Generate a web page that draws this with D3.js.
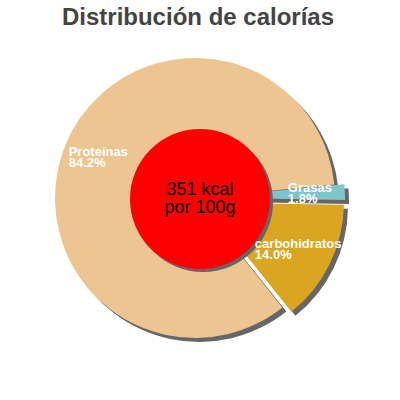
<!DOCTYPE html>
<html>
<head>
<meta charset="utf-8">
<script src="https://cdn.jsdelivr.net/npm/d3@7/dist/d3.min.js"></script>
<style>
  html, body { margin: 0; padding: 0; background: #ffffff; }
  svg { display: block; font-family: "Liberation Sans", Arial, sans-serif; }
</style>
</head>
<body>
<script>
// ---- data ----
const title = "Distribución de calorías";
const categories = ["Grasas", "carbohidratos", "Proteínas"];
const percentages = [1.8, 14.0, 84.2];
const exploded = ["Grasas", "carbohidratos"];
const energyKcal = 351;
const centerLines = [energyKcal + " kcal", "por 100g"];

// ---- layout / style ----
const W = 400, H = 400;
const cx = 195, cy = 198, R = 140, Rin = 70;
const explodeDist = 10;
const shadowDx = 4, shadowDy = 4;
const startDeg = 84.5;

const color = d3.scaleOrdinal()
  .domain(categories)
  .range(["#7fc4cb", "#daa520", "#edc591"]);

const rows = categories.map((c, i) => ({ name: c, value: percentages[i] }));

const svg = d3.select("body").append("svg")
  .attr("width", W).attr("height", H);

svg.append("text")
  .attr("x", 198).attr("y", 25)
  .attr("text-anchor", "middle")
  .attr("font-size", 24).attr("font-weight", "bold")
  .attr("fill", "#444444")
  .text(title);

const a0 = startDeg * Math.PI / 180;
const pie = d3.pie().sort(null).value(d => d.value)
  .startAngle(a0).endAngle(a0 + 2 * Math.PI);
const arcs = pie(rows);
const arc = d3.arc().innerRadius(0).outerRadius(R);
const labelArc = d3.arc().innerRadius(Rin).outerRadius(R);

function offset(d) {
  if (!exploded.includes(d.data.name)) return [0, 0];
  const m = (d.startAngle + d.endAngle) / 2;
  return [Math.sin(m) * explodeDist, -Math.cos(m) * explodeDist];
}

const g = svg.append("g");

// shadows
g.selectAll("path.shadow").data(arcs).enter().append("path")
  .attr("class", "shadow")
  .attr("d", arc)
  .attr("fill", "#666666")
  .attr("transform", d => { const o = offset(d); return `translate(${cx + o[0] + shadowDx},${cy + o[1] + shadowDy})`; });

// slices
g.selectAll("path.slice").data(arcs).enter().append("path")
  .attr("class", "slice")
  .attr("d", arc)
  .attr("fill", d => color(d.data.name))
  .attr("transform", d => { const o = offset(d); return `translate(${cx + o[0]},${cy + o[1]})`; });

// center disc
const ccx = 200, ccy = 199, cr = 70;
g.append("circle").attr("cx", ccx + 3).attr("cy", ccy + 3).attr("r", cr).attr("fill", "#666666");
g.append("circle").attr("cx", ccx).attr("cy", ccy).attr("r", cr).attr("fill", "#ff0000");

// labels: block centred on the ring centroid, lines left-aligned
const lab = g.selectAll("text.lab").data(arcs).enter().append("text")
  .attr("class", "lab")
  .attr("font-size", 13)
  .attr("font-weight", "bold")
  .attr("fill", "#ffffff");
const t1 = lab.append("tspan").attr("x", 0).attr("y", -1).text(d => d.data.name);
const t2 = lab.append("tspan").attr("x", 0).attr("y", 10).text(d => d.data.value.toFixed(1) + "%");
lab.attr("transform", function (d) {
  const o = offset(d); const c = labelArc.centroid(d);
  const spans = d3.select(this).selectAll("tspan").nodes();
  const w = Math.max(...spans.map(s => s.getComputedTextLength()));
  return `translate(${cx + o[0] + c[0] - w / 2},${cy + o[1] + c[1]})`;
});

// center text
const ct = g.append("text").attr("text-anchor", "middle")
  .attr("font-size", 18).attr("fill", "#000000");
ct.append("tspan").attr("x", ccx).attr("y", 195).text(centerLines[0]);
ct.append("tspan").attr("x", ccx).attr("y", 213).text(centerLines[1]);
</script>
</body>
</html>
